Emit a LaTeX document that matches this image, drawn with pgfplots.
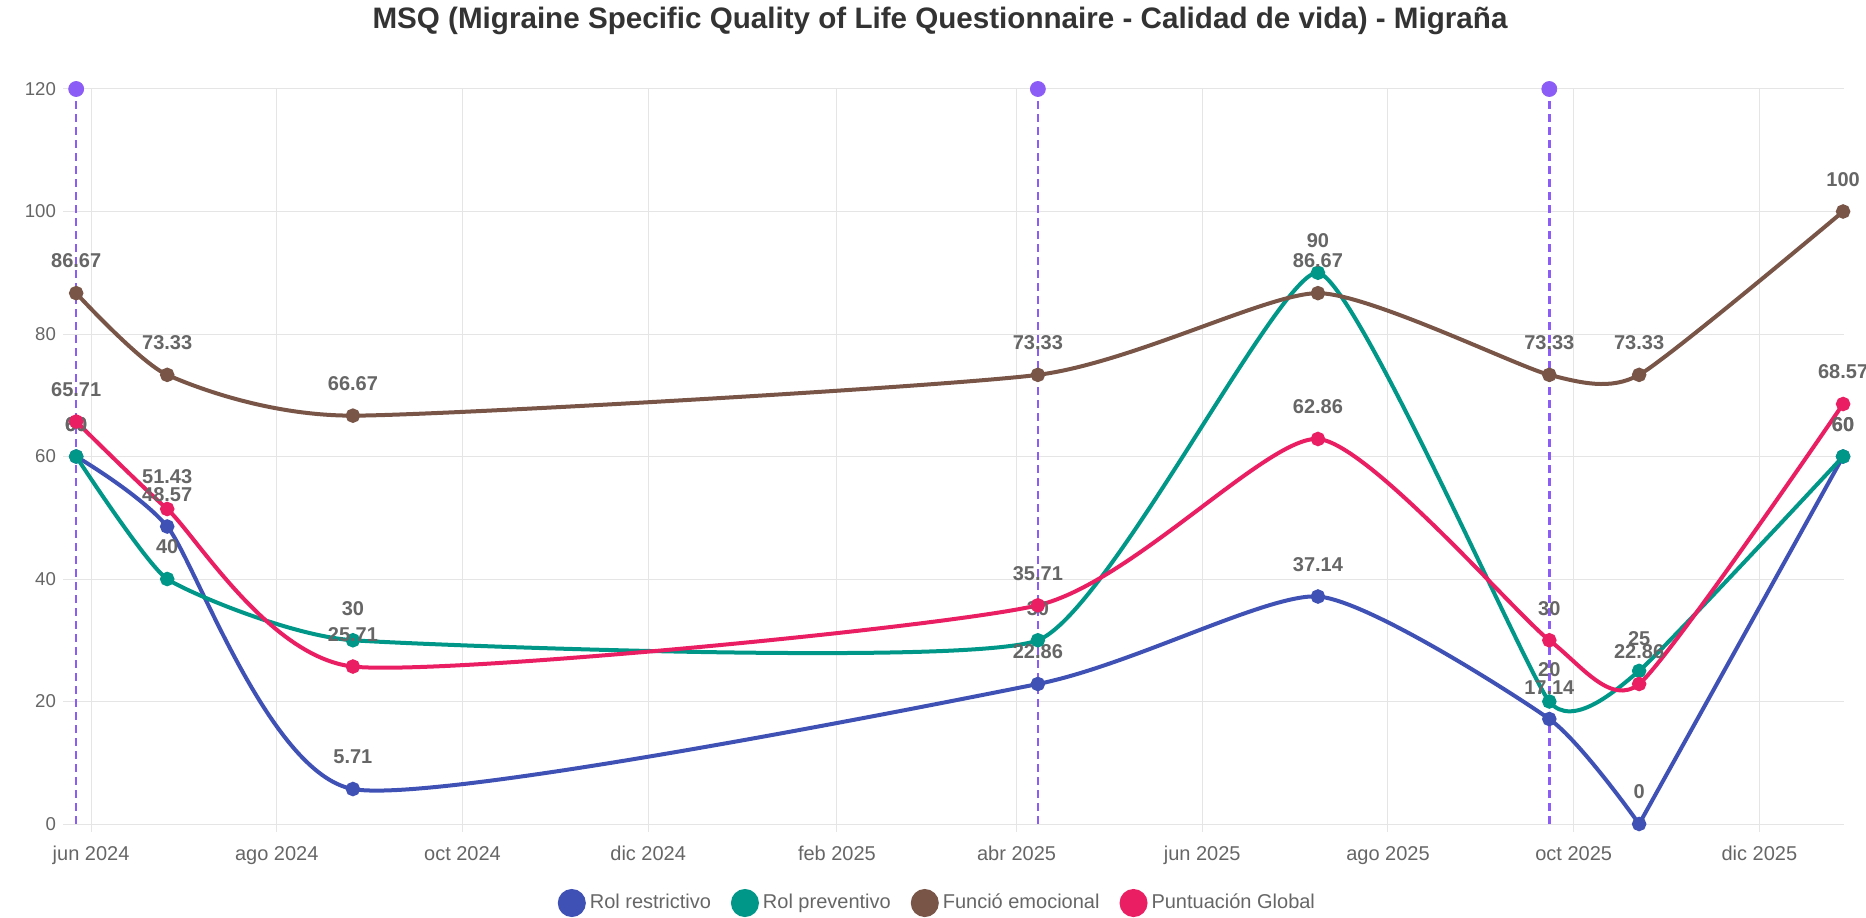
\documentclass[border=0pt]{standalone}
\usepackage{pgfplots}
\pgfplotsset{compat=1.18}
\usepackage{fontspec}
\setmainfont{Liberation Sans}
\definecolor{cBlue}{HTML}{3F51B5}
\definecolor{cTeal}{HTML}{009688}
\definecolor{cBrown}{HTML}{795548}
\definecolor{cPink}{HTML}{E91E63}
\definecolor{cPurple}{HTML}{8B5CF6}
\definecolor{gridc}{HTML}{E5E5E5}
\definecolor{labc}{HTML}{666666}
\definecolor{titc}{HTML}{333333}
\pgfplotsset{
  ser/.style={line width=2pt, smooth, tension=0.35, mark=*, mark size=2.6pt,
    nodes near coords={\pgfmathprintnumber[assume math mode=true]{\pgfplotspointmeta}},
    every node near coord/.append style={font=\bfseries\fontsize{10}{12}\selectfont, text=labc, anchor=south, yshift=11.5pt, inner sep=0pt}},
  lineonly/.style={line width=2pt, no marks, forget plot},
  evline/.style={cPurple, line width=1.2pt, dash pattern=on 4pt off 2.5pt, forget plot},
}
\begin{document}
\begin{tikzpicture}
\begin{axis}[
  at={(0,0)}, anchor=south west,
  scale only axis, width=886.5pt, height=367.5pt,
  xmin=-6.6, xmax=575.8, ymin=0, ymax=120,
  xtick={0,61,122,183,245,304,365,426,487,548},
  xticklabels={jun 2024,ago 2024,oct 2024,dic 2024,feb 2025,abr 2025,jun 2025,ago 2025,oct 2025,dic 2025},
  ytick={0,20,...,120},
  grid=major, grid style={gridc, line width=0.5pt},
  axis line style={draw=none},
  xtick pos=bottom, ytick pos=left,
  tick style={gridc, line width=0.5pt},
  major tick length=4pt, tick align=outside,
  xticklabel style={font=\fontsize{10}{12}\selectfont, text=labc, yshift=-3.5pt},
  yticklabel style={font=\fontsize{9.3}{11}\selectfont, text=labc},
  /pgf/number format/assume math mode=true,
  clip=false,
  legend style={at={(0.4881,-0.1075)}, anchor=center, draw=none, fill=none, legend columns=4,
    font=\fontsize{10}{12}\selectfont, text=labc,
    nodes={inner sep=0pt},
    /tikz/every odd column/.append style={column sep=2pt},
    /tikz/every even column/.append style={column sep=10pt}},
  legend image code/.code={\fill[#1] (6pt,0pt) circle (6pt);},
]
% vertical event markers
\addplot[evline] coordinates {(-4.9,0) (-4.9,120)};
\addplot[evline] coordinates {(311,0) (311,120)};
\addplot[evline] coordinates {(479,0) (479,120)};

% Rol restrictivo (line in two pieces, then marks + labels)
\addplot[lineonly, cBlue, smooth, tension=0.35] coordinates {(-4.9,60) (25,48.57) (86,5.71) (311,22.86) (403,37.14) (479,17.14) (508.5,0)};
\addplot[lineonly, cBlue, sharp plot] coordinates {(508.5,0) (575.5,60)};
\addplot[ser, cBlue, only marks] coordinates {(-4.9,60) (25,48.57) (86,5.71) (311,22.86) (403,37.14) (479,17.14) (508.5,0) (575.5,60)};
\addlegendentry{Rol restrictivo}

\addplot[ser, cTeal, tension=0.26] coordinates {(-4.9,60) (25,40) (86,30) (311,30) (403,90) (479,20) (508.5,25) (575.5,60)};
\addlegendentry{Rol preventivo}

\addplot[ser, cBrown] coordinates {(-4.9,86.67) (25,73.33) (86,66.67) (311,73.33) (403,86.67) (479,73.33) (508.5,73.33) (575.5,100)};
\addlegendentry{Funció emocional}

\addplot[ser, cPink] coordinates {(-4.9,65.71) (25,51.43) (86,25.71) (311,35.71) (403,62.86) (479,30) (508.5,22.86) (575.5,68.57)};
\addlegendentry{Puntuación Global}

\addplot[only marks, mark=*, mark size=3.75pt, cPurple, forget plot] coordinates {(-4.9,120) (311,120) (479,120)};
\end{axis}
\node[font=\bfseries\fontsize{14.8}{17}\selectfont, text=titc] at (434.5pt,401.5pt) {MSQ (Migraine Specific Quality of Life Questionnaire - Calidad de vida) - Migraña};
\pgfresetboundingbox
\useasboundingbox (-35.5pt,-46.5pt) rectangle (897.5pt,412pt);
\end{tikzpicture}
\end{document}
